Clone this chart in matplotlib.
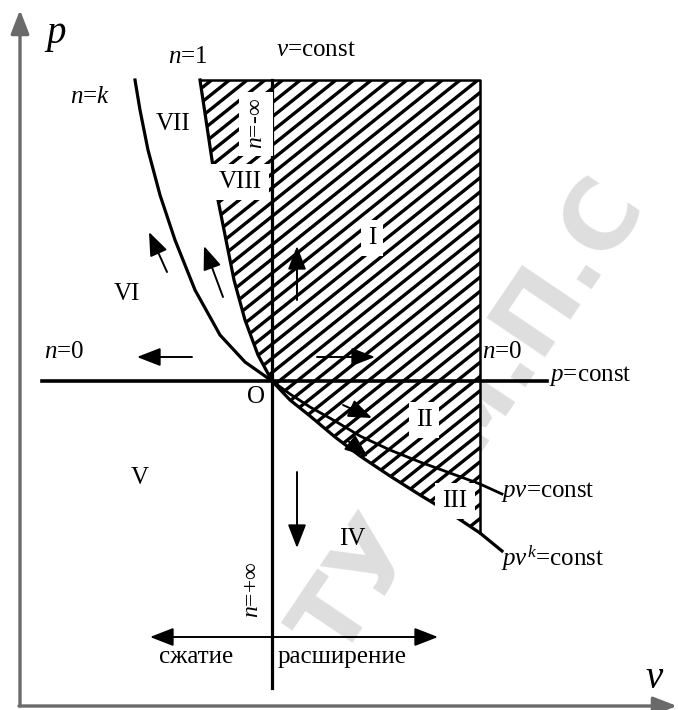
import numpy as np
import matplotlib
matplotlib.use("Agg")
import matplotlib.pyplot as plt
from matplotlib.patches import Polygon

plt.rcParams['font.family'] = ['Liberation Serif', 'DejaVu Serif']
plt.rcParams['mathtext.fontset'] = 'custom'
plt.rcParams['mathtext.it'] = 'Liberation Serif:italic'
plt.rcParams['mathtext.rm'] = 'Liberation Serif'

# curves (v to the right, p downward in pixel units)
nk_v = [135, 140, 148, 160, 175, 195, 220, 245, 272]
nk_p = [80, 110, 150, 195, 240, 290, 335, 362, 381]
n1_v = [200, 206, 212, 218, 226, 234, 245, 258, 272]
n1_p = [80, 120, 160, 200, 240, 280, 320, 355, 381]
pv_v = [272, 290, 310, 335, 360, 390, 420, 450, 480, 502]
pv_p = [381, 394, 407, 421, 436, 450, 462, 473, 484, 494]
pvk_v = [272, 290, 310, 335, 360, 390, 420, 450, 480, 502]
pvk_p = [381, 400, 416, 437, 456, 476, 495, 513, 533, 551]

O_v, O_p = 272, 381
top_p = 80
right_v = 480
isobar_v = [42, 547]
isochor_p = [top_p, 688]

# labels: text, v, p, size, rotation, white box
labels = [
    ("$p$", 55, 36, 28, 0, False),
    ("$v$", 655, 678, 28, 0, False),
    ("$n$=1", 188, 57, 18, 0, False),
    ("$v$=const", 316, 50, 18, 0, False),
    ("$n$=$k$", 90, 97, 18, 0, False),
    ("VII", 173, 124, 18, 0, False),
    ("$n$=-∞", 256, 124, 17, 90, True),
    ("VIII", 240, 182, 18, 0, True),
    ("I", 372, 238, 18, 0, True),
    ("VI", 127, 294, 18, 0, False),
    ("$n$=0", 64, 352, 18, 0, False),
    ("$n$=0", 502, 352, 18, 0, False),
    ("$p$=const", 590, 376, 18, 0, False),
    ("O", 256, 397, 18, 0, False),
    ("II", 424, 420, 18, 0, True),
    ("V", 140, 478, 18, 0, False),
    ("$pv$=const", 548, 492, 18, 0, False),
    ("III", 455, 501, 18, 0, True),
    ("IV", 352, 539, 18, 0, False),
    ("$pv^k$=const", 553, 558, 18, 0, False),
    ("$n$=+∞", 253, 590, 17, 90, False),
    ("сжатие", 196, 657, 18, 0, False),
    ("расширение", 342, 657, 18, 0, False),
]

# arrows: (tail v, tail p, head v, head p)
arrows = [
    (167, 272, 149, 232),
    (223, 297, 204, 246),
    (297, 300, 297, 246),
    (192, 357, 137, 357),
    (317, 357, 375, 357),
    (343, 405, 372, 418),
    (348, 441, 368, 457),
    (297, 472, 297, 548),
]
span_arrow = (150, 438, 637)

fig = plt.figure(figsize=(6.78, 7.10), dpi=100)
ax = fig.add_axes([0, 0, 1, 1])
ax.set_xlim(0, 678)
ax.set_ylim(710, 0)
ax.axis('off')

# faint watermark
ax.text(472, 420, "ТУ им.П.С", rotation=56, fontsize=70, color='#dedede',
        fontweight='bold', family='DejaVu Sans', ha='center', va='center', zorder=0)

# coordinate axes
axis_kw = dict(arrowstyle='-|>,head_length=0.9,head_width=0.35', color='#6a6a6a', lw=2.4,
               mutation_scale=16, shrinkA=0, shrinkB=0)
ax.annotate('', xy=(20, 10), xytext=(20, 706), arrowprops=axis_kw)
ax.annotate('', xy=(677, 706), xytext=(19, 706), arrowprops=axis_kw)

# hatched region, drawn with clipped diagonal strokes
hv = n1_v + [v for v in pvk_v if v <= right_v][1:] + [right_v]
hp = n1_p + [p for v, p in zip(pvk_v, pvk_p) if v <= right_v][1:] + [top_p]
region = Polygon(np.column_stack([hv, hp]), closed=True, facecolor='white',
                 edgecolor='none', zorder=1)
ax.add_patch(region)
slope = 0.8
for c in np.arange(150, 1000, 14.2):
    ln, = ax.plot([150, 520], [c - slope * 150, c - slope * 520], color='black',
                  lw=2.4, solid_capstyle='butt', zorder=1.5)
    ln.set_clip_path(region)
ax.plot([n1_v[0], right_v, right_v], [top_p, top_p, max(hp)], color='black', lw=1.8, zorder=2)

# process lines
ax.plot(nk_v, nk_p, color='black', lw=2.3, zorder=3)
ax.plot(n1_v, n1_p, color='black', lw=2.3, zorder=3)
ax.plot(pv_v, pv_p, color='black', lw=2.0, zorder=3)
ax.plot(pvk_v, pvk_p, color='black', lw=2.3, zorder=3)
ax.plot(isobar_v, [O_p, O_p], color='black', lw=2.6, zorder=3)
ax.plot([O_v, O_v], isochor_p, color='black', lw=2.3, zorder=3)

arr_kw = dict(arrowstyle='-|>,head_length=0.9,head_width=0.35', color='black', lw=1.4,
              mutation_scale=16, shrinkA=0, shrinkB=0)
for tv, tp, hv_, hp_ in arrows:
    ax.annotate('', xy=(hv_, hp_), xytext=(tv, tp), arrowprops=arr_kw, zorder=4)
ax.annotate('', xy=(span_arrow[1], span_arrow[2]), xytext=(span_arrow[0], span_arrow[2]),
            arrowprops=dict(arr_kw, arrowstyle='<|-|>,head_length=0.9,head_width=0.35'), zorder=4)

for txt, x, y, fs, rot, box in labels:
    kw = {}
    if box:
        kw['bbox'] = dict(facecolor='white', edgecolor='none', pad=5)
    ax.text(x, y, txt, fontsize=fs, rotation=rot, ha='center', va='center', zorder=5, **kw)

fig.savefig('out.png', dpi=100)
